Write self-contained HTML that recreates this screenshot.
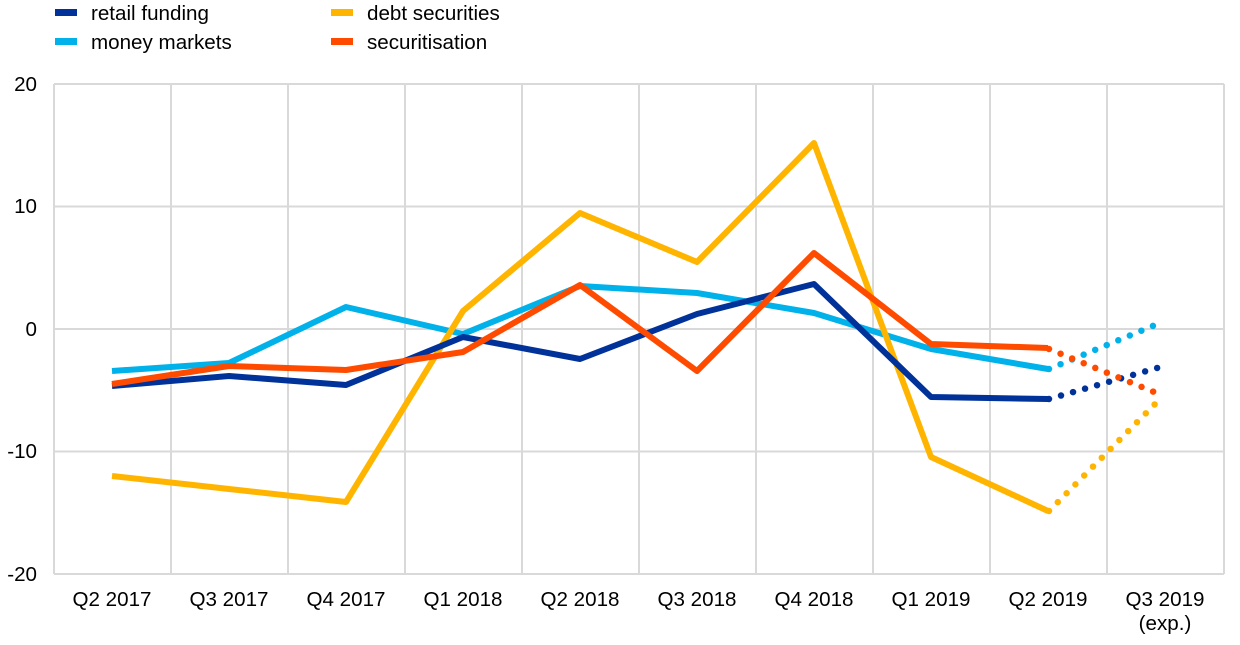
<!DOCTYPE html>
<html><head><meta charset="utf-8"><style>
body{margin:0;background:#fff;}
svg text{font-family:"Liberation Sans",Arial,sans-serif;font-size:20.6px;fill:#000;}
</style></head><body>
<svg width="1240" height="640" viewBox="0 0 1240 640" xmlns="http://www.w3.org/2000/svg">
<g stroke="#d9d9d9" stroke-width="2">
<line x1="54" y1="84" x2="1224" y2="84"/>
<line x1="54" y1="206.5" x2="1224" y2="206.5"/>
<line x1="54" y1="329" x2="1224" y2="329"/>
<line x1="54" y1="451.5" x2="1224" y2="451.5"/>
<line x1="54" y1="574" x2="1224" y2="574"/>
<line x1="54" y1="84" x2="54" y2="574"/>
<line x1="171" y1="84" x2="171" y2="574"/>
<line x1="288" y1="84" x2="288" y2="574"/>
<line x1="405" y1="84" x2="405" y2="574"/>
<line x1="522" y1="84" x2="522" y2="574"/>
<line x1="639" y1="84" x2="639" y2="574"/>
<line x1="756" y1="84" x2="756" y2="574"/>
<line x1="873" y1="84" x2="873" y2="574"/>
<line x1="990" y1="84" x2="990" y2="574"/>
<line x1="1107" y1="84" x2="1107" y2="574"/>
<line x1="1224" y1="84" x2="1224" y2="574"/>
</g>
<g text-anchor="end">
<text x="37" y="91">20</text>
<text x="37" y="213">10</text>
<text x="37" y="336">0</text>
<text x="37" y="458">-10</text>
<text x="37" y="581">-20</text>
</g>
<g text-anchor="middle">
<text x="112" y="606">Q2 2017</text>
<text x="229" y="606">Q3 2017</text>
<text x="346" y="606">Q4 2017</text>
<text x="463" y="606">Q1 2018</text>
<text x="580" y="606">Q2 2018</text>
<text x="697" y="606">Q3 2018</text>
<text x="814" y="606">Q4 2018</text>
<text x="931" y="606">Q1 2019</text>
<text x="1048" y="606">Q2 2019</text>
<text x="1165" y="606">Q3 2019</text>
<text x="1165" y="630">(exp.)</text>
</g>
<g fill="none" stroke-width="6" stroke-linejoin="round">
<polyline stroke="#00b1ea" points="112,371 229,363 346,307 463,334 580,286 697,293 814,313 931,349 1048,369"/>
<polyline stroke="#ffb400" points="112,476 229,489 346,502 463,311 580,213 697,262 814,143 931,457 1048,511"/>
<polyline stroke="#003299" points="112,386 229,376 346,385 463,337 580,359 697,314 814,284 931,397 1048,399"/>
<polyline stroke="#ff4b00" points="112,384 229,366 346,370 463,352 580,285 697,371 814,253 931,344 1048,348"/>
</g>
<g fill="none" stroke-width="6.5" stroke-linecap="round" stroke-dasharray="0 12.5" stroke-dashoffset="-12.5">
<line stroke="#00b1ea" x1="1049" y1="369" x2="1160" y2="323"/>
<line stroke="#003299" x1="1049" y1="399" x2="1164" y2="366"/>
<line stroke="#ff4b00" x1="1049" y1="349" x2="1159" y2="394"/>
<line stroke="#ffb400" x1="1049" y1="511" x2="1161" y2="398"/>
</g>
<rect x="55" y="9" width="22" height="7" fill="#003299"/>
<text x="91" y="20">retail funding</text>
<rect x="55" y="38" width="22" height="7" fill="#00b1ea"/>
<text x="91" y="49">money markets</text>
<rect x="331" y="9" width="22" height="7" fill="#ffb400"/>
<text x="367" y="20">debt securities</text>
<rect x="331" y="38" width="22" height="7" fill="#ff4b00"/>
<text x="367" y="49">securitisation</text>
</svg>
</body></html>
